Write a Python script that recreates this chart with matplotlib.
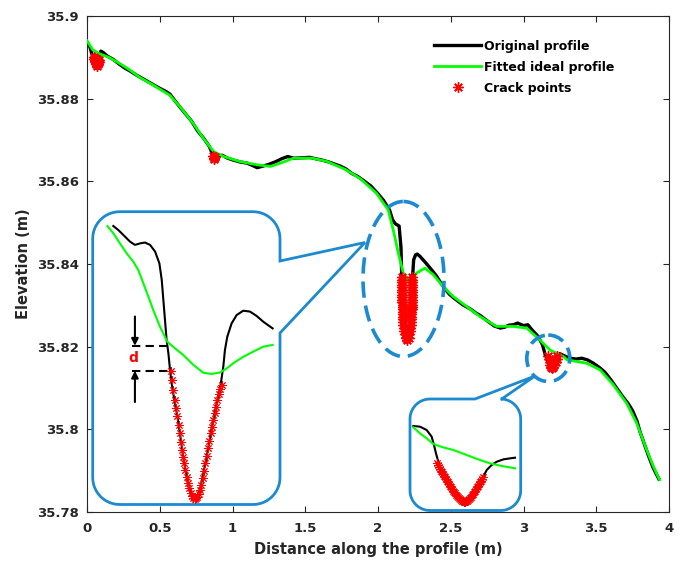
import numpy as np
import matplotlib
matplotlib.use("Agg")
import matplotlib.pyplot as plt
from matplotlib.patches import Polygon, Ellipse
from matplotlib.ticker import FormatStrFormatter

# ---------------- data ----------------
orig_x = [0.000, 0.02, 0.04, 0.06, 0.07, 0.085, 0.095, 0.11, 0.14, 0.18, 0.22, 0.26, 0.30, 0.34,
          0.38, 0.42, 0.46, 0.50, 0.54, 0.57, 0.60, 0.64, 0.68, 0.72, 0.76, 0.80, 0.84, 0.86,
          0.88, 0.90, 0.93, 0.96, 1.00, 1.05, 1.10, 1.14, 1.17, 1.20, 1.25, 1.30, 1.34, 1.38,
          1.42, 1.48, 1.53, 1.58, 1.62, 1.66, 1.70, 1.74, 1.78, 1.82, 1.86, 1.90, 1.95, 2.00,
          2.04, 2.08, 2.10, 2.12, 2.145, 2.158, 2.163, 2.170, 2.175, 2.185, 2.20, 2.215, 2.225,
          2.230, 2.238, 2.245, 2.258, 2.27, 2.29, 2.31, 2.34, 2.37, 2.40, 2.43, 2.46, 2.49,
          2.52, 2.55, 2.58, 2.61, 2.64, 2.67, 2.70, 2.73, 2.76, 2.80, 2.84, 2.87, 2.90, 2.93,
          2.96, 3.00, 3.03, 3.06, 3.10, 3.13, 3.15, 3.17, 3.19, 3.21, 3.23, 3.25, 3.28, 3.32,
          3.36, 3.40, 3.44, 3.48, 3.52, 3.56, 3.60, 3.64, 3.68, 3.72, 3.75, 3.78, 3.80, 3.83,
          3.86, 3.89, 3.93]
orig_y = [35.8937, 35.8925, 35.8900, 35.8884, 35.8880, 35.8893, 35.8915, 35.8912, 35.8903,
          35.8895, 35.8884, 35.8874, 35.8866, 35.8857, 35.8849, 35.8841, 35.8833, 35.8825,
          35.8818, 35.8811, 35.8797, 35.8779, 35.8762, 35.8745, 35.8722, 35.8705, 35.8685,
          35.8668, 35.8660, 35.8662, 35.8663, 35.8657, 35.8652, 35.8647, 35.8644, 35.8638,
          35.8633, 35.8636, 35.8641, 35.8648, 35.8655, 35.8660, 35.8656, 35.8657, 35.8658,
          35.8654, 35.8651, 35.8647, 35.8642, 35.8637, 35.8630, 35.8619, 35.8612, 35.8602,
          35.8589, 35.8570, 35.8553, 35.8530, 35.8507, 35.8497, 35.8492, 35.8440, 35.8370,
          35.8284, 35.8245, 35.8220, 35.8210, 35.8220, 35.8245, 35.8284, 35.8370, 35.8410,
          35.8422, 35.8424, 35.8418, 35.8410, 35.8398, 35.8385, 35.8372, 35.8355, 35.8340,
          35.8327, 35.8318, 35.8310, 35.8302, 35.8296, 35.8290, 35.8282, 35.8276, 35.8268,
          35.8260, 35.8250, 35.8245, 35.8247, 35.8252, 35.8253, 35.8257, 35.8251, 35.8253,
          35.8240, 35.8225, 35.8205, 35.8180, 35.8163, 35.8152, 35.8155, 35.8170, 35.8183,
          35.8178, 35.8172, 35.8170, 35.8172, 35.8168, 35.8160, 35.8150, 35.8138, 35.8120,
          35.8100, 35.8080, 35.8062, 35.8045, 35.8020, 35.7995, 35.7965, 35.7935, 35.7908,
          35.7880]

fit_x = [0.000, 0.04, 0.09, 0.15, 0.23, 0.30, 0.36, 0.46, 0.57, 0.64, 0.73, 0.80, 0.87, 0.94,
         1.05, 1.17, 1.26, 1.33, 1.42, 1.55, 1.65, 1.78, 1.88, 1.99, 2.07, 2.105, 2.14, 2.174,
         2.22, 2.266, 2.323, 2.38, 2.449, 2.518, 2.61, 2.70, 2.815, 2.93, 3.022, 3.113, 3.182,
         3.274, 3.30, 3.434, 3.526, 3.617, 3.709, 3.778, 3.847, 3.893, 3.935]
fit_y = [35.8940, 35.8918, 35.8908, 35.8900, 35.8884, 35.8868, 35.8852, 35.8832, 35.8808,
         35.8780, 35.8740, 35.8704, 35.8672, 35.8660, 35.8648, 35.8640, 35.8636, 35.8644,
         35.8656, 35.8656, 35.8648, 35.8628, 35.8606, 35.8571, 35.8531, 35.8482, 35.8426,
         35.8378, 35.8357, 35.8378, 35.8390, 35.8374, 35.8345, 35.8321, 35.8297, 35.8273,
         35.8249, 35.8249, 35.8245, 35.8216, 35.8192, 35.8176, 35.8168, 35.8160, 35.8144,
         35.8108, 35.8063, 35.8015, 35.7950, 35.7910, 35.7878]

crack_x = [0.045, 0.050, 0.055, 0.060, 0.065, 0.070, 0.075, 0.080, 0.085, 0.060, 0.070,
           0.055, 0.075,
           0.865, 0.870, 0.875, 0.880,
           2.1630, 2.1635, 2.1640, 2.1645, 2.1650, 2.1655, 2.1660, 2.1665, 2.1670, 2.1675,
           2.1680, 2.1685, 2.1690, 2.1695, 2.1700, 2.1705, 2.1710, 2.1720, 2.1735, 2.1750,
           2.1775, 2.1800, 2.1840,
           2.1900, 2.2000, 2.2100,
           2.2160, 2.2200, 2.2225, 2.2250, 2.2265, 2.2280, 2.2290, 2.2295, 2.2300, 2.2305,
           2.2310, 2.2315, 2.2320, 2.2325, 2.2330, 2.2335, 2.2340, 2.2345, 2.2350, 2.2355,
           2.2360, 2.2365, 2.2370,
           3.170, 3.175, 3.180, 3.185, 3.190, 3.197, 3.205, 3.212, 3.220, 3.227, 3.233,
           3.190, 3.205, 3.215, 3.198]
crack_y = [35.8902, 35.8897, 35.8892, 35.8887, 35.8883, 35.8880, 35.8883, 35.8888, 35.8893,
           35.8895, 35.8890, 35.8899, 35.8892,
           35.8662, 35.8657, 35.8655, 35.8660,
           35.8368, 35.8362, 35.8356, 35.8350, 35.8344, 35.8338, 35.8332, 35.8326, 35.8320,
           35.8314, 35.8308, 35.8302, 35.8296, 35.8290, 35.8284, 35.8278, 35.8272, 35.8266,
           35.8260, 35.8253, 35.8245, 35.8238, 35.8230,
           35.8222, 35.8216, 35.8222,
           35.8230, 35.8238, 35.8245, 35.8253, 35.8260, 35.8266, 35.8272, 35.8278, 35.8284,
           35.8290, 35.8296, 35.8302, 35.8308, 35.8314, 35.8320, 35.8326, 35.8332, 35.8338,
           35.8344, 35.8350, 35.8356, 35.8362, 35.8368,
           35.8178, 35.8170, 35.8162, 35.8156, 35.8151, 35.8148, 35.8150, 35.8155, 35.8162,
           35.8170, 35.8177,
           35.8165, 35.8165, 35.8170, 35.8158]

# large inset (relative distance / relative elevation)
big_orig_u = [0.074, 0.102, 0.130, 0.167, 0.194, 0.222, 0.250, 0.278, 0.306, 0.330, 0.343,
              0.352, 0.361, 0.370, 0.380, 0.389, 0.398, 0.413, 0.430, 0.444, 0.459, 0.478,
              0.496, 0.519, 0.541, 0.559, 0.578, 0.596, 0.615, 0.633, 0.652, 0.670, 0.685,
              0.694, 0.707, 0.731, 0.759, 0.796, 0.833, 0.870, 0.907, 0.959]
big_orig_v = [0.962, 0.948, 0.931, 0.908, 0.897, 0.902, 0.905, 0.897, 0.874, 0.833, 0.776,
              0.707, 0.638, 0.569, 0.523, 0.466, 0.420, 0.362, 0.305, 0.247, 0.178, 0.109,
              0.052, 0.023, 0.029, 0.063, 0.121, 0.178, 0.247, 0.305, 0.362, 0.414, 0.477,
              0.534, 0.580, 0.626, 0.655, 0.670, 0.667, 0.652, 0.632, 0.609]
big_fit_u = [0.041, 0.074, 0.111, 0.148, 0.185, 0.213, 0.241, 0.269, 0.296, 0.333, 0.374,
             0.417, 0.463, 0.519, 0.574, 0.620, 0.667, 0.704, 0.741, 0.796, 0.852, 0.907, 0.959]
big_fit_v = [0.962, 0.937, 0.902, 0.868, 0.839, 0.810, 0.764, 0.718, 0.672, 0.615, 0.563,
             0.540, 0.517, 0.483, 0.456, 0.452, 0.457, 0.471, 0.489, 0.511, 0.529, 0.546, 0.552]
big_crack_u = [0.393, 0.400, 0.407, 0.417, 0.424, 0.430, 0.437, 0.444, 0.450, 0.456, 0.461,
               0.467, 0.474, 0.481, 0.489, 0.496, 0.504, 0.511, 0.519, 0.526, 0.533, 0.541,
               0.548, 0.556, 0.563, 0.570, 0.578, 0.585, 0.593, 0.600, 0.607, 0.615, 0.622,
               0.630, 0.637, 0.644, 0.652, 0.659, 0.667, 0.676]
big_crack_v = [0.463, 0.431, 0.397, 0.362, 0.333, 0.307, 0.276, 0.247, 0.218, 0.190, 0.167,
               0.144, 0.121, 0.098, 0.075, 0.057, 0.043, 0.031, 0.023, 0.021, 0.023, 0.029,
               0.038, 0.052, 0.069, 0.092, 0.118, 0.144, 0.169, 0.195, 0.222, 0.247, 0.270,
               0.293, 0.316, 0.339, 0.362, 0.383, 0.399, 0.414]

# small inset
small_orig_u = [0.030, 0.090, 0.150, 0.195, 0.216, 0.234, 0.255, 0.285, 0.330, 0.375, 0.420,
                0.465, 0.495, 0.541, 0.586, 0.631, 0.661, 0.691, 0.736, 0.781, 0.841, 0.901, 0.946]
small_orig_v = [0.759, 0.753, 0.723, 0.664, 0.589, 0.515, 0.440, 0.366, 0.277, 0.202, 0.143,
                0.098, 0.083, 0.113, 0.173, 0.247, 0.307, 0.366, 0.411, 0.440, 0.461, 0.470, 0.476]
small_fit_u = [0.030, 0.090, 0.150, 0.210, 0.300, 0.390, 0.511, 0.631, 0.721, 0.811, 0.946]
small_fit_v = [0.747, 0.693, 0.649, 0.598, 0.568, 0.545, 0.500, 0.455, 0.426, 0.405, 0.381]
small_crack_u = [0.246, 0.255, 0.264, 0.273, 0.282, 0.291, 0.300, 0.309, 0.318, 0.327, 0.336,
                 0.345, 0.354, 0.363, 0.372, 0.381, 0.390, 0.399, 0.408, 0.417, 0.426, 0.435,
                 0.444, 0.453, 0.462, 0.471, 0.480, 0.489, 0.498, 0.507, 0.517, 0.526, 0.535,
                 0.544, 0.553, 0.562, 0.571, 0.580, 0.589, 0.598, 0.607, 0.616, 0.625, 0.634,
                 0.643, 0.652, 0.661]
small_crack_v = [0.432, 0.414, 0.396, 0.378, 0.360, 0.345, 0.330, 0.316, 0.301, 0.286, 0.271,
                 0.256, 0.241, 0.226, 0.211, 0.196, 0.182, 0.170, 0.158, 0.146, 0.134, 0.123,
                 0.113, 0.105, 0.098, 0.092, 0.086, 0.084, 0.083, 0.087, 0.092, 0.099, 0.107,
                 0.117, 0.128, 0.141, 0.155, 0.168, 0.182, 0.196, 0.211, 0.226, 0.241, 0.256,
                 0.271, 0.289, 0.307]

x_ticks = [0, 0.5, 1, 1.5, 2, 2.5, 3, 3.5, 4]
y_ticks = [35.78, 35.80, 35.82, 35.84, 35.86, 35.88, 35.90]

legend_labels = ["Original profile", "Fitted ideal profile", "Crack points"]
x_label = "Distance along the profile (m)"
y_label = "Elevation (m)"

# ---------------- styling ----------------
W, H = 683, 562
BLUE = "#1B8AD0"
GREEN = "#00FF00"
AXC = "#262626"
STAR = (8, 2, 0)  # MATLAB-like asterisk
plt.rcParams["font.family"] = ["DejaVu Sans"]
plt.rcParams["font.weight"] = "bold"

fig = plt.figure(figsize=(W / 100, H / 100), dpi=100)
fig.patch.set_facecolor("white")

L, R, T, B = 87, 669, 16, 512
ax = fig.add_axes([L / W, 1 - B / H, (R - L) / W, (B - T) / H])
ax.plot(orig_x, orig_y, color="black", lw=2.4, zorder=2, label=legend_labels[0])
ax.plot(fit_x, fit_y, color=GREEN, lw=2.0, zorder=3, label=legend_labels[1])
ax.plot(crack_x, crack_y, linestyle="none", marker=STAR, color="red", ms=7.5, mew=1.0,
        zorder=4, label=legend_labels[2])
ax.set_xlim(0, 4)
ax.set_ylim(35.78, 35.90)
ax.set_xticks(x_ticks)
ax.set_yticks(y_ticks)
ax.xaxis.set_major_formatter(FormatStrFormatter("%g"))
ax.yaxis.set_major_formatter(FormatStrFormatter("%g"))
ax.tick_params(direction="in", length=4.5, width=0.8, colors=AXC, labelsize=9.5,
               top=True, right=True)
ax.tick_params(axis="x", pad=7)
ax.tick_params(axis="y", pad=6)
for lab in ax.get_xticklabels() + ax.get_yticklabels():
    lab.set_fontweight("bold")
for sp in ax.spines.values():
    sp.set_color(AXC)
    sp.set_linewidth(0.8)
ax.set_xlabel(x_label, fontsize=10.5, fontweight="bold", color=AXC, labelpad=5)
ax.set_ylabel(y_label, fontsize=10.5, fontweight="bold", color=AXC, labelpad=4)

leg = ax.legend(loc="upper left", bbox_to_anchor=(0.596, 0.952), frameon=False,
                fontsize=9, handlelength=3.8, handletextpad=0.25, labelspacing=0.63,
                borderpad=0, borderaxespad=0)
for t in leg.get_texts():
    t.set_fontweight("bold")
    t.set_color("black")

# ---------------- overlay in pixel coordinates ----------------
ov = fig.add_axes([0, 0, 1, 1], zorder=5)
ov.set_xlim(0, W)
ov.set_ylim(H, 0)
ov.axis("off")
ov.patch.set_visible(False)


def arc(cx, cy, r, a0, a1, n=16):
    th = np.radians(np.linspace(a0, a1, n))
    return list(zip(cx + r * np.cos(th), cy + r * np.sin(th)))


def callout(l, r, t, b, rad, side, p1, p2, tip):
    pts = []
    pts += arc(l + rad, t + rad, rad, 180, 270)
    if side == "top":
        pts += [(p1, t), tip, (p2, t)]
    pts += arc(r - rad, t + rad, rad, 270, 360)
    if side == "right":
        pts += [(r, p1), tip, (r, p2)]
    pts += arc(r - rad, b - rad, rad, 0, 90)
    pts += arc(l + rad, b - rad, rad, 90, 180)
    return Polygon(pts, closed=True, facecolor="white", edgecolor=BLUE, lw=2.0,
                   joinstyle="miter", zorder=5)


ov.add_patch(callout(92.7, 280, 211.7, 504.5, 27, "right", 261, 333, (365, 242.5)))
ov.add_patch(callout(410, 520.7, 399, 510.5, 20, "top", 475, 501.7, (535, 376)))
ov.add_patch(Ellipse((403.5, 279), 81, 155, fill=False, edgecolor=BLUE, lw=2.6,
                     linestyle=(0, (4.5, 2.2)), zorder=6))
ov.add_patch(Ellipse((548.3, 358.3), 43, 46.5, fill=False, edgecolor=BLUE, lw=2.6,
                     linestyle=(0, (4.5, 2.2)), zorder=6))

# ---------------- insets ----------------
ib = fig.add_axes([100 / W, 1 - 505 / H, 180 / W, 290 / H], zorder=7)
ib.set_xlim(0, 1)
ib.set_ylim(0, 1)
ib.axis("off")
ib.patch.set_visible(False)
ib.plot(big_orig_u, big_orig_v, color="black", lw=1.5, zorder=2)
ib.plot(big_fit_u, big_fit_v, color=GREEN, lw=1.5, zorder=3)
ib.plot(big_crack_u, big_crack_v, linestyle="none", marker=STAR, color="red", ms=6,
        mew=0.7, zorder=4)
# d annotation
ib.plot([0.176, 0.380], [0.549, 0.549], color="black", lw=1.5, linestyle=(0, (4, 2.5)))
ib.plot([0.176, 0.393], [0.463, 0.463], color="black", lw=1.5, linestyle=(0, (4, 2.5)))
ib.annotate("", xy=(0.194, 0.549), xytext=(0.194, 0.650),
            arrowprops=dict(arrowstyle="-|>", color="black", lw=1.5, mutation_scale=10,
                            shrinkA=0, shrinkB=0))
ib.annotate("", xy=(0.194, 0.463), xytext=(0.194, 0.355),
            arrowprops=dict(arrowstyle="-|>", color="black", lw=1.5, mutation_scale=10,
                            shrinkA=0, shrinkB=0))
ib.text(0.185, 0.506, "d", color="red", fontsize=10, fontweight="bold",
        ha="center", va="center")

isml = fig.add_axes([410 / W, 1 - 511 / H, 111 / W, 112 / H], zorder=7)
isml.set_xlim(0, 1)
isml.set_ylim(0, 1)
isml.axis("off")
isml.patch.set_visible(False)
isml.plot(small_orig_u, small_orig_v, color="black", lw=1.5, zorder=2)
isml.plot(small_fit_u, small_fit_v, color=GREEN, lw=1.5, zorder=3)
isml.plot(small_crack_u, small_crack_v, linestyle="none", marker=STAR, color="red", ms=6,
          mew=0.7, zorder=4)

fig.savefig("out.png", dpi=100, facecolor="white")
